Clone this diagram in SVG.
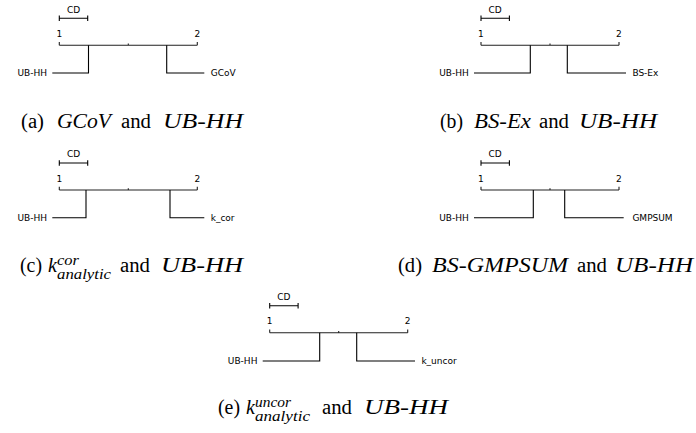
<svg xmlns="http://www.w3.org/2000/svg" width="696" height="433" viewBox="0 0 696 433">
<style>
.ln{stroke:#000;stroke-width:1.1;fill:none}
.ax{stroke:#222;stroke-width:1.1;fill:none}
.lb{font-family:"DejaVu Sans",sans-serif;font-size:9px;fill:#000}
.cap{font-family:"Liberation Serif","DejaVu Serif",serif;font-size:20px;fill:#000}
.it{font-style:italic}
.sc{font-family:"Liberation Serif","DejaVu Serif",serif;font-size:14px;font-style:italic;fill:#000}
</style>
<defs>
<g id="frame">
<path class="ln" d="M59.3,18.3H87.7M59.3,15.5V21M87.7,15.5V21"/>
<text class="lb" x="73.5" y="12.5" text-anchor="middle">CD</text>
<text class="lb" x="59.3" y="37" text-anchor="middle">1</text>
<text class="lb" x="197.3" y="37" text-anchor="middle">2</text>
<path class="ax" d="M59.3,45.3H197.3M59.3,42V45.3M197.3,42V45.3M128.3,43.5V45.3"/>
</g>
</defs>
<g id="panel-a">
<use href="#frame"/>
<g id="a-ubhh"><path class="ln" d="M88.5,45.3V73H52.3"/><text class="lb" x="47" y="76" text-anchor="end">UB-HH</text></g>
<g id="a-gcov"><path class="ln" d="M166.7,45.3V73H204.3"/><text class="lb" x="210.7" y="76">GCoV</text></g>
</g>
<g id="caption-a">
<text class="cap" x="21" y="128" textLength="23" lengthAdjust="spacingAndGlyphs">(a)</text>
<text class="cap it" x="57" y="128" textLength="54" lengthAdjust="spacingAndGlyphs">GCoV</text>
<text class="cap" x="121" y="128" textLength="30" lengthAdjust="spacingAndGlyphs">and</text>
<text class="cap it" x="163" y="128" textLength="80" lengthAdjust="spacingAndGlyphs">UB-HH</text>
</g>
<g id="panel-b" transform="translate(421.7,0)">
<use href="#frame"/>
<g id="b-ubhh"><path class="ln" d="M108.6,45.3V73H52.3"/><text class="lb" x="47" y="76" text-anchor="end">UB-HH</text></g>
<g id="b-bsex"><path class="ln" d="M145.6,45.3V73H204.3"/><text class="lb" x="210.7" y="76">BS-Ex</text></g>
</g>
<g id="caption-b">
<text class="cap" x="440" y="128" textLength="23" lengthAdjust="spacingAndGlyphs">(b)</text>
<text class="cap it" x="474" y="128" textLength="57" lengthAdjust="spacingAndGlyphs">BS-Ex</text>
<text class="cap" x="539" y="128" textLength="30" lengthAdjust="spacingAndGlyphs">and</text>
<text class="cap it" x="579" y="128" textLength="78" lengthAdjust="spacingAndGlyphs">UB-HH</text>
</g>
<g id="panel-c" transform="translate(0,144.7)">
<use href="#frame"/>
<g id="c-ubhh"><path class="ln" d="M86,45.3V73H52.3"/><text class="lb" x="47" y="76" text-anchor="end">UB-HH</text></g>
<g id="c-kcor"><path class="ln" d="M170,45.3V73H204.3"/><text class="lb" x="210.7" y="76">k_cor</text></g>
</g>
<g id="caption-c">
<text class="cap" x="20" y="272" textLength="22" lengthAdjust="spacingAndGlyphs">(c)</text>
<text class="cap it" x="48" y="272">k</text>
<text class="sc" x="57" y="265" textLength="22" lengthAdjust="spacingAndGlyphs">cor</text>
<text class="sc" x="57" y="279" textLength="54" lengthAdjust="spacingAndGlyphs">analytic</text>
<text class="cap" x="120" y="272" textLength="30" lengthAdjust="spacingAndGlyphs">and</text>
<text class="cap it" x="161" y="272" textLength="82" lengthAdjust="spacingAndGlyphs">UB-HH</text>
</g>
<g id="panel-d" transform="translate(421.7,144.7)">
<use href="#frame"/>
<g id="d-ubhh"><path class="ln" d="M111.6,45.3V73H52.3"/><text class="lb" x="47" y="76" text-anchor="end">UB-HH</text></g>
<g id="d-gmpsum"><path class="ln" d="M143,45.3V73H202"/><text class="lb" x="210.7" y="76">GMPSUM</text></g>
</g>
<g id="caption-d">
<text class="cap" x="398" y="272" textLength="24" lengthAdjust="spacingAndGlyphs">(d)</text>
<text class="cap it" x="432" y="272" textLength="136" lengthAdjust="spacingAndGlyphs">BS-GMPSUM</text>
<text class="cap" x="577" y="272" textLength="30" lengthAdjust="spacingAndGlyphs">and</text>
<text class="cap it" x="615" y="272" textLength="78" lengthAdjust="spacingAndGlyphs">UB-HH</text>
</g>
<g id="panel-e" transform="translate(210.4,287.4)">
<use href="#frame"/>
<g id="e-ubhh"><path class="ln" d="M109.3,45.3V73.6H52.3"/><text class="lb" x="47" y="76.5" text-anchor="end">UB-HH</text></g>
<g id="e-kuncor"><path class="ln" d="M146.3,45.3V73.6H204.6"/><text class="lb" x="211" y="76.5">k_uncor</text></g>
</g>
<g id="caption-e">
<text class="cap" x="218" y="414" textLength="22" lengthAdjust="spacingAndGlyphs">(e)</text>
<text class="cap it" x="246" y="414">k</text>
<text class="sc" x="255" y="407" textLength="36" lengthAdjust="spacingAndGlyphs">uncor</text>
<text class="sc" x="255" y="421" textLength="55" lengthAdjust="spacingAndGlyphs">analytic</text>
<text class="cap" x="322" y="414" textLength="30" lengthAdjust="spacingAndGlyphs">and</text>
<text class="cap it" x="364" y="414" textLength="84" lengthAdjust="spacingAndGlyphs">UB-HH</text>
</g>
</svg>
